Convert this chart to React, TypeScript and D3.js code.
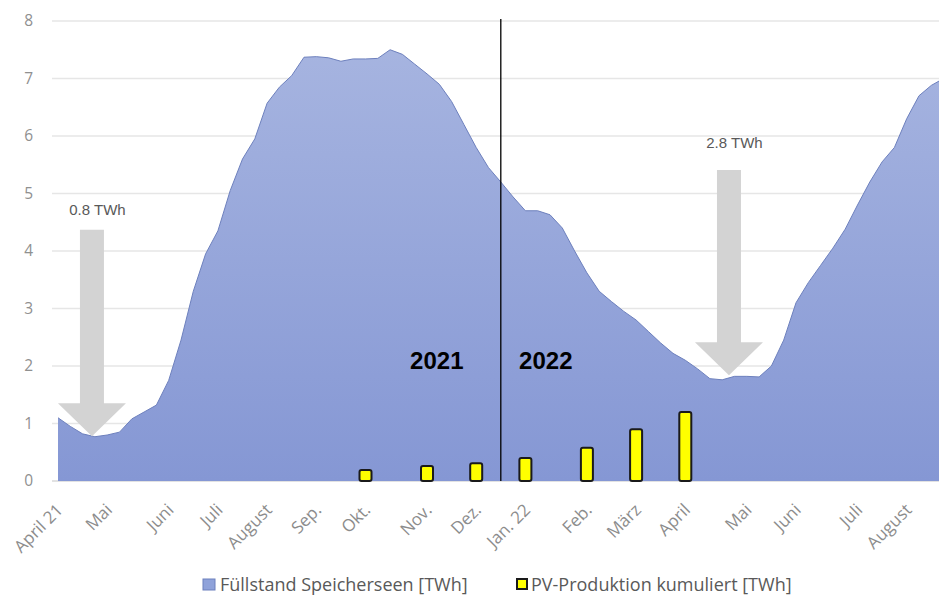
import React from "react";
import * as d3 from "d3";

// Weekly reservoir level (TWh), April 2021 – August 2022
const storageLevel: number[] = [
  1.1, 0.95, 0.82, 0.77, 0.8, 0.85, 1.08, 1.2, 1.32, 1.75,
  2.45, 3.3, 3.95, 4.35, 5.05, 5.6, 5.95, 6.57, 6.85, 7.05,
  7.37, 7.38, 7.36, 7.3, 7.34, 7.34, 7.35, 7.5, 7.42, 7.25,
  7.08, 6.9, 6.6, 6.2, 5.8, 5.45, 5.2, 4.94, 4.7, 4.7,
  4.63, 4.4, 4.0, 3.62, 3.3, 3.12, 2.95, 2.8, 2.6, 2.4,
  2.22, 2.1, 1.95, 1.78, 1.76, 1.82, 1.82, 1.81, 2.0, 2.45,
  3.1, 3.45, 3.75, 4.05, 4.38, 4.8, 5.2, 5.55, 5.8, 6.3,
  6.7, 6.88, 7.0,
];

// Month labels and the week each one falls on
const monthLabels: string[] = [
  "April 21", "Mai", "Juni", "Juli", "August", "Sep.", "Okt.", "Nov.", "Dez.",
  "Jan. 22", "Feb.", "März", "April", "Mai", "Juni", "Juli", "August",
];
const monthWeeks: number[] = [0, 4, 9, 13, 17, 21, 25, 30, 34, 38, 43, 47, 51, 56, 60, 65, 69];

// Cumulative PV production (TWh) at month marks
const pvWeeks: number[] = [25, 30, 34, 38, 43, 47, 51];
const pvValues: number[] = [0.19, 0.26, 0.31, 0.4, 0.58, 0.9, 1.2];

const yTicks: number[] = [0, 1, 2, 3, 4, 5, 6, 7, 8];

// Year boundary
const yearSplitWeek = 36;

// Annotated arrows: week, label, top value, tip value
const arrowWeeks: number[] = [2.76, 54.55];
const arrowLabels: string[] = ["0.8 TWh", "2.8 TWh"];
const arrowTops: number[] = [4.37, 5.41];
const arrowTips: number[] = [0.78, 1.84];

const W = 939;
const H = 596;

export default function App() {
  const x = d3.scaleLinear().domain([0, 72]).range([58, 58 + 72 * 12.3]);
  const y = d3.scaleLinear().domain([0, 8]).range([481, 21]);

  const area = d3
    .area<number>()
    .x((_, i) => x(i))
    .y0(y(0))
    .y1((d) => y(d));
  const line = d3
    .line<number>()
    .x((_, i) => x(i))
    .y((d) => y(d));

  const axisFont = "'Open Sans', 'Noto Sans', sans-serif";
  const labelFont = "'Liberation Sans', Arial, sans-serif";
  const barW = 12;
  // gap between arrow top and its caption baseline
  const captionGap = [15, 22];

  return (
    <svg
      width={W}
      height={H}
      style={{ position: "absolute", left: 0, top: 0, background: "#fff" }}
    >
      <defs>
        <linearGradient id="areaFill" x1="0" y1="0" x2="0" y2="1">
          <stop offset="0" stopColor="#a6b4e0" />
          <stop offset="1" stopColor="#8597d4" />
        </linearGradient>
        <clipPath id="plotClip">
          <rect x={0} y={0} width={W} height={H} />
        </clipPath>
      </defs>

      {/* gridlines */}
      {yTicks.map((t) => (
        <line
          key={"g" + t}
          x1={52}
          x2={W}
          y1={y(t)}
          y2={y(t)}
          stroke={t === 0 ? "#d9d9d9" : "#e6e6e6"}
          strokeWidth={1.5}
        />
      ))}

      {/* y tick labels */}
      {yTicks.map((t) => (
        <text
          key={"yl" + t}
          x={33}
          y={y(t)}
          dy="0.35em"
          textAnchor="end"
          fontFamily={axisFont}
          fontSize={15.5}
          fill="#909090"
        >
          {t}
        </text>
      ))}

      {/* reservoir level */}
      <g clipPath="url(#plotClip)">
        <path d={area(storageLevel) ?? ""} fill="url(#areaFill)" />
        <path d={line(storageLevel) ?? ""} fill="none" stroke="#6d80bd" strokeWidth={1} />
      </g>

      {/* PV bars */}
      {pvValues.map((v, i) => (
        <rect
          key={"b" + i}
          x={x(pvWeeks[i]) - barW / 2}
          y={y(v)}
          width={barW}
          height={y(0) - y(v)}
          rx={2}
          fill="#ffff00"
          stroke="#1a1a1a"
          strokeWidth={2}
        />
      ))}

      {/* year split */}
      <line
        x1={x(yearSplitWeek)}
        x2={x(yearSplitWeek)}
        y1={19}
        y2={y(0)}
        stroke="#000"
        strokeWidth={1.3}
      />
      <text
        x={x(yearSplitWeek) - 64}
        y={369}
        textAnchor="middle"
        fontFamily={labelFont}
        fontWeight="bold"
        fontSize={24}
        fill="#000"
      >
        2021
      </text>
      <text
        x={x(yearSplitWeek) + 45}
        y={369}
        textAnchor="middle"
        fontFamily={labelFont}
        fontWeight="bold"
        fontSize={24}
        fill="#000"
      >
        2022
      </text>

      {/* arrows */}
      {arrowWeeks.map((wk, i) => {
        const cx = x(wk);
        const top = y(arrowTops[i]);
        const tip = y(arrowTips[i]);
        const headBase = tip - 33;
        const shaftHalf = 12;
        const headHalf = 34;
        const pts = [
          [cx - shaftHalf, top],
          [cx + shaftHalf, top],
          [cx + shaftHalf, headBase],
          [cx + headHalf, headBase],
          [cx, tip],
          [cx - headHalf, headBase],
          [cx - shaftHalf, headBase],
        ];
        return (
          <g key={"a" + i}>
            <polygon points={pts.map((p) => p.join(",")).join(" ")} fill="#d3d3d3" />
            <text
              x={cx + 5.5}
              y={top - captionGap[i]}
              textAnchor="middle"
              fontFamily={labelFont}
              fontSize={15}
              fill="#595959"
            >
              {arrowLabels[i]}
            </text>
          </g>
        );
      })}

      {/* x tick labels */}
      {monthLabels.map((lab, i) => (
        <text
          key={"xl" + i}
          transform={`translate(${x(monthWeeks[i]) + 6},${511}) rotate(-45)`}
          textAnchor="end"
          fontFamily={axisFont}
          fontSize={17}
          fill="#8c8c8c"
        >
          {lab}
        </text>
      ))}

      {/* legend */}
      <rect x={203} y={579} width={12} height={11} fill="#8fa2da" stroke="#6d80bd" strokeWidth={1} />
      <text x={220} y={591} fontFamily={axisFont} fontSize={18} fill="#595959">
        Füllstand Speicherseen [TWh]
      </text>
      <rect x={517} y={579} width={10} height={10} fill="#ffff00" stroke="#1a1a1a" strokeWidth={2} />
      <text x={531} y={591} fontFamily={axisFont} fontSize={18} fill="#595959">
        PV-Produktion kumuliert [TWh]
      </text>
    </svg>
  );
}
